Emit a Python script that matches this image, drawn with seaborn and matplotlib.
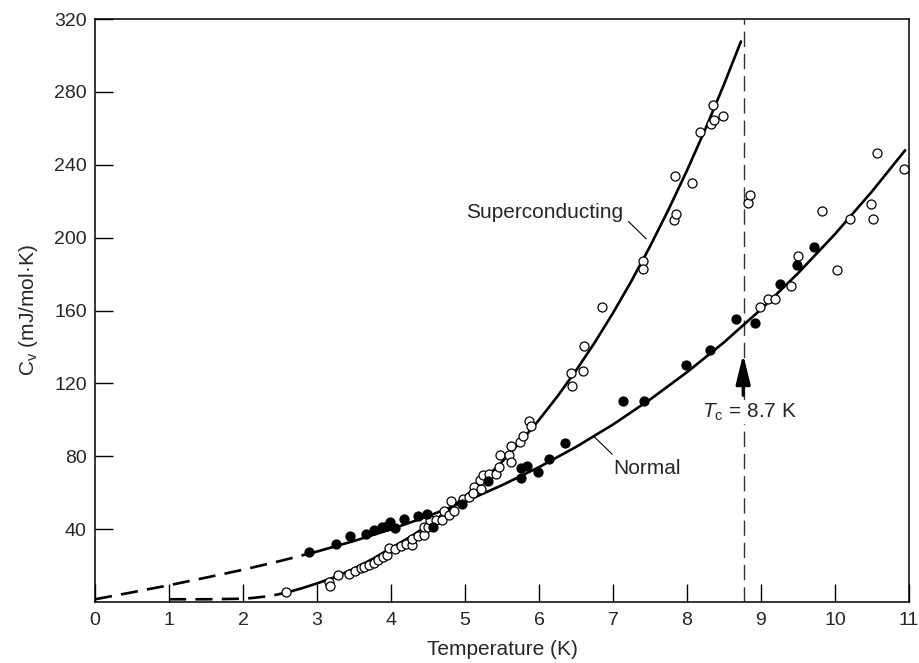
import numpy as np
import pandas as pd
import seaborn as sns
import matplotlib.pyplot as plt

# === data ===
# open circles (superconducting sample, zero field)
open_T = [2.58, 3.16, 3.18, 3.29, 3.43, 3.52, 3.59, 3.64, 3.70, 3.77, 3.83, 3.89, 3.94,
          3.98, 4.06, 4.13, 4.20, 4.29, 4.28, 4.36, 4.45, 4.44, 4.50, 4.53, 4.61, 4.69,
          4.71, 4.79, 4.81, 4.85, 4.97, 5.05, 5.12, 5.11, 5.21, 5.20, 5.24, 5.32, 5.42,
          5.46, 5.48, 5.59, 5.62, 5.62, 5.74, 5.79, 5.86, 5.89, 6.43, 6.59, 6.45, 6.61,
          6.85, 7.40, 7.40, 7.82, 7.85, 7.84, 8.07, 8.18, 8.32, 8.36, 8.35, 8.49, 8.83,
          8.85, 8.99, 9.09, 9.19, 9.40, 9.50, 9.83, 10.03, 10.20, 10.49, 10.51, 10.57, 10.94]
open_C = [5.3, 10.8, 8.9, 14.8, 15.3, 17.0, 18.4, 19.3, 20.3, 21.5, 23.0, 24.8, 25.8,
          29.8, 29.0, 30.7, 31.8, 31.2, 34.4, 36.3, 36.7, 40.9, 40.9, 44.9, 44.9, 44.9,
          50.0, 47.7, 55.3, 50.0, 56.6, 57.7, 63.2, 59.9, 62.3, 66.8, 69.6, 70.5, 70.5,
          74.1, 80.5, 80.9, 76.9, 85.5, 87.8, 91.1, 99.2, 96.6, 125.6, 126.6, 118.7, 140.3,
          161.8, 187.4, 182.8, 209.7, 213.2, 233.6, 230.1, 258.1, 262.6, 264.5, 272.9, 266.7, 219.0,
          223.6, 161.8, 166.2, 166.2, 173.2, 190.1, 214.4, 182.5, 210.4, 218.5, 210.4, 246.7, 237.6]

# filled circles (normal state)
fill_T = [2.89, 3.26, 3.44, 3.66, 3.77, 3.88, 3.95, 3.99, 4.05, 4.17, 4.37, 4.49, 4.57,
          4.96, 5.31, 5.76, 5.84, 5.76, 5.99, 6.13, 6.35, 7.14, 7.42, 7.99, 8.31, 8.67,
          8.92, 9.26, 9.49, 9.72]
fill_C = [27.2, 31.6, 36.0, 37.6, 39.3, 40.9, 41.5, 44.0, 40.4, 45.3, 47.0, 48.4, 41.1,
          53.9, 66.5, 73.6, 74.5, 68.3, 71.1, 78.5, 87.5, 110.5, 110.5, 130.2, 138.5, 155.1,
          153.2, 174.6, 185.2, 195.1]

# drawn curves
normal_dash_T = [0.0, 0.5, 1.0, 1.5, 2.0, 2.5, 2.86]
normal_dash_C = [1.5, 5.3, 9.2, 13.4, 17.7, 22.5, 26.2]
normal_T = [2.86, 3.0, 3.5, 4.0, 4.5, 5.0, 5.5, 6.0, 6.5, 7.0, 7.5, 8.0, 8.5, 9.0,
            9.5, 10.0, 10.5, 10.95]
normal_C = [26.2, 27.7, 33.5, 39.9, 47.1, 55.1, 64.1, 74.0, 85.1, 97.4, 111.1, 126.1,
            142.5, 160.6, 180.4, 201.9, 225.3, 248.0]

super_dash_T = [1.0, 1.5, 2.0, 2.15, 2.3, 2.45, 2.6]
super_dash_C = [1.5, 1.5, 1.8, 2.3, 3.0, 4.0, 5.3]
super_T = [2.6, 2.8, 3.0, 3.25, 3.5, 3.75, 4.0, 4.25, 4.5, 4.75, 5.0, 5.25, 5.5, 5.75,
           6.0, 6.25, 6.5, 6.75, 7.0, 7.25, 7.5, 7.75, 8.0, 8.25, 8.5, 8.73]
super_C = [5.3, 7.6, 10.2, 13.8, 18.3, 23.6, 29.6, 35.5, 42.1, 49.6, 57.8, 66.9, 76.9,
           87.9, 99.9, 112.9, 127.0, 142.2, 158.6, 176.2, 195.1, 215.3, 236.8, 259.7,
           284.0, 307.7]

Tc = 8.77
x_ticks = list(range(0, 12))
y_ticks = [40, 80, 120, 160, 200, 240, 280, 320]

# === style ===
sns.set_style("ticks")
plt.rcParams["font.family"] = ["Liberation Sans", "DejaVu Sans"]
plt.rcParams["mathtext.fontset"] = "custom"
plt.rcParams["mathtext.rm"] = "Liberation Sans"
plt.rcParams["mathtext.it"] = "Liberation Sans:italic"

fig = plt.figure(figsize=(9.19, 6.63), dpi=100)
ax = fig.add_axes([0.1034, 0.092, 0.8856, 0.8793])

lw = 1.9
dash = (0, (6.5, 3.5))

sns.lineplot(x=normal_dash_T, y=normal_dash_C, ax=ax, color="black", lw=lw,
             linestyle=dash, sort=False, estimator=None)
sns.lineplot(x=normal_T, y=normal_C, ax=ax, color="black", lw=lw, sort=False, estimator=None)
sns.lineplot(x=super_dash_T, y=super_dash_C, ax=ax, color="black", lw=lw,
             linestyle=dash, sort=False, estimator=None)
sns.lineplot(x=super_T, y=super_C, ax=ax, color="black", lw=lw, sort=False, estimator=None)

ax.axvline(Tc, color="#333333", lw=1.0, linestyle=(0, (11, 5)), zorder=1)

sns.scatterplot(x=open_T, y=open_C, ax=ax, s=42, facecolor="white", edgecolor="black",
                linewidth=0.9, zorder=3, clip_on=False)
sns.scatterplot(x=fill_T, y=fill_C, ax=ax, s=42, color="black", edgecolor="black",
                linewidth=0.9, zorder=3, clip_on=False)

# labels with leader lines
ax.text(6.08, 213.9, "Superconducting", fontsize=15, ha="center", va="center")
ax.plot([7.21, 7.45], [208.9, 199.3], color="black", lw=0.8)
ax.text(7.46, 73.4, "Normal", fontsize=15, ha="center", va="center")
ax.plot([6.75, 6.99], [90.6, 81.1], color="black", lw=0.8)

ax.text(8.85, 104.3, r"$T_\mathrm{c}$ = 8.7 K", fontsize=15, ha="center", va="center",
        bbox=dict(facecolor="white", edgecolor="none", pad=1), zorder=4)
ax.annotate("", xy=(8.76, 136), xytext=(8.76, 113.4),
            arrowprops=dict(arrowstyle="-|>,head_length=0.9,head_width=0.22",
                            color="black", lw=2.2, mutation_scale=20, shrinkA=0, shrinkB=0),
            zorder=5)

ax.set_xlim(0, 11)
ax.set_ylim(0, 320)
ax.set_xticks(x_ticks)
ax.set_yticks(y_ticks)
ax.tick_params(direction="in", length=13, width=1, labelsize=14, pad=7, color="black")
ax.tick_params(axis="y", pad=6)
for s in ax.spines.values():
    s.set_linewidth(1.1)
    s.set_color("black")

ax.set_xlabel("Temperature (K)", fontsize=15, labelpad=8)
ax.set_ylabel(r"C$_\mathregular{v}$ (mJ/mol·K)", fontsize=15, labelpad=10)

fig.savefig("out.png", dpi=100)
